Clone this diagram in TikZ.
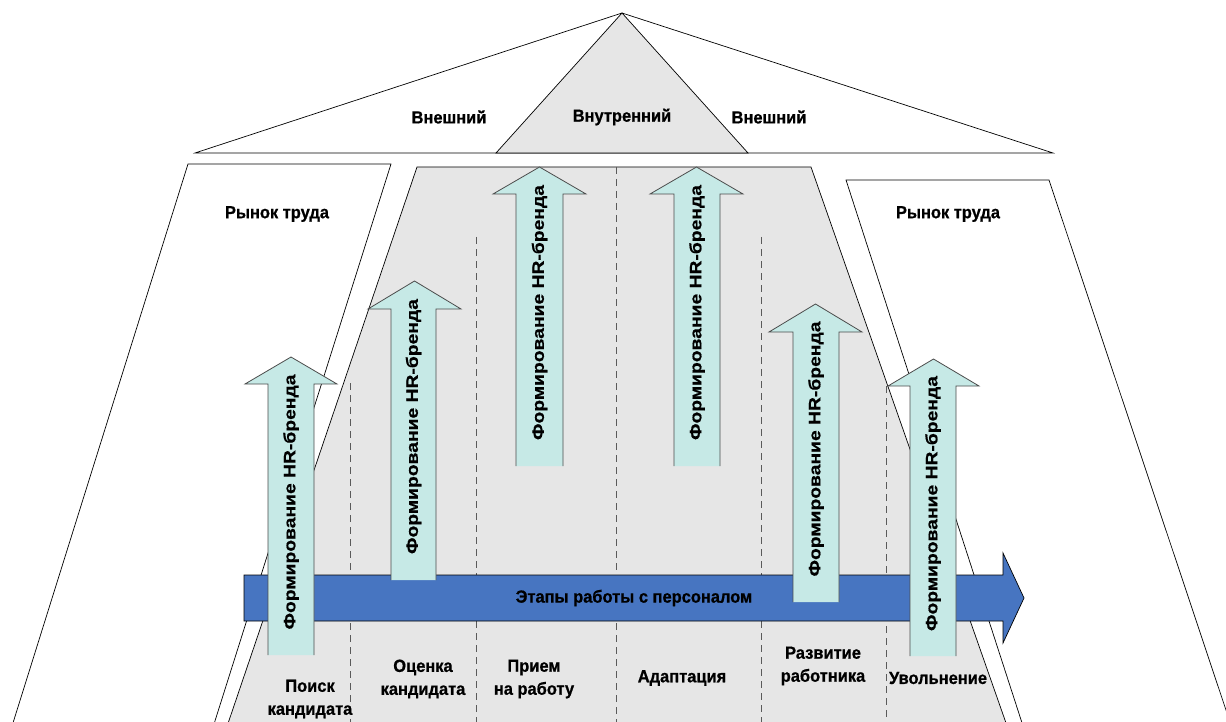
\documentclass[tikz,border=0pt]{standalone}
\usepackage{fontspec}
\setmainfont{Liberation Sans}
\newfontfamily\lblfont{Liberation Sans}[FakeStretch=0.94, BoldFeatures={FakeBold=0.8}]
\newfontfamily\hrfont{Liberation Sans}[FakeStretch=1.17, BoldFeatures={FakeBold=0.6}]
\definecolor{zonegray}{RGB}{230,230,230}
\definecolor{hrcyan}{RGB}{198,233,230}
\definecolor{stageblue}{RGB}{71,117,193}
\definecolor{dashgray}{RGB}{90,90,90}
\begin{document}
\begin{tikzpicture}[x=1pt,y=-1pt,
  lbl/.style={font=\lblfont\fontsize{17.5}{23}\selectfont\bfseries, align=center, inner sep=0pt},
  outline/.style={draw=black, line width=0.7pt},
  stagesep/.style={draw=dashgray, line width=0.8pt, dash pattern=on 7pt off 5pt},
  hrtext/.style={font=\hrfont\fontsize{16.5}{19}\selectfont\bfseries, rotate=90, inner sep=0pt}]
\useasboundingbox (0,0) rectangle (1226,722);
\clip (0,0) rectangle (1226,722);
% top triangles
\draw[outline, fill=white] (622,13) -- (1053,153) -- (195,153) -- cycle;
\draw[outline, fill=zonegray] (622,13) -- (748,153) -- (496,153) -- cycle;
% labour market parallelograms
\draw[outline, fill=white] (-8,790) -- (188,164) -- (391,164) -- (190,800);
\draw[outline, fill=white] (1047,800) -- (846,180) -- (1049,180) -- (1256,800);
% central trapezoid
\draw[outline, fill=zonegray] (202,800) -- (417,167) -- (811,167) -- (1033,800);
% stage separators
\draw[stagesep] (350,383) -- (350,722);
\draw[stagesep] (476,237) -- (476,722);
\draw[stagesep] (616,167) -- (616,722);
\draw[stagesep] (761,237) -- (761,722);
\draw[stagesep] (886,386) -- (886,722);
% big blue arrow
\draw[outline, fill=stageblue] (244,575) -- (1003,575) -- (1003,553) -- (1024,598) -- (1003,643) -- (1003,621) -- (244,621) -- cycle;
\node[lbl] (stages) at (634,598) {Этапы работы с персоналом};
% HR arrows
\newcommand{\hrarrow}[8]{%
  \fill[hrcyan] (#1,#7) -- (#1,#6) -- (#3,#6) -- ({(#3+#4)/2},#5) -- (#4,#6) -- (#2,#6) -- (#2,#7) -- cycle;
  \draw[draw=black!70, line width=0.8pt] (#1,#7) -- (#1,#6) -- (#3,#6) -- ({(#3+#4)/2},#5) -- (#4,#6) -- (#2,#6) -- (#2,#7);
  \node[hrtext] (#8) at ({(#1+#2)/2},{(#5+#7)/2-4}) {Формирование HR-бренда};
}
\hrarrow{268}{314}{245}{337}{357}{384}{655}{hrA}
\hrarrow{391}{436}{368}{461}{281}{309}{580}{hrB}
\hrarrow{516}{563}{493}{586}{167}{194}{466}{hrC}
\hrarrow{674}{720}{650}{743}{167}{194}{466}{hrD}
\hrarrow{793}{839}{769}{862}{304}{332}{602}{hrE}
\hrarrow{910}{956}{888}{979}{359}{386}{656}{hrF}
% labels
\node[lbl] (ext1) at (449,117) {Внешний};
\node[lbl] (int) at (622,117) {Внутренний};
\node[lbl] (ext2) at (769,117) {Внешний};
\node[lbl] (mk1) at (277,214) {Рынок труда};
\node[lbl] (mk2) at (948,214) {Рынок труда};
\node[lbl] (s1) at (310,699) {Поиск\\кандидата};
\node[lbl] (s2) at (423,679) {Оценка\\кандидата};
\node[lbl] (s3) at (534,679) {Прием\\на работу};
\node[lbl] (s4) at (682,678) {Адаптация};
\node[lbl] (s5) at (823,666) {Развитие\\работника};
\node[lbl] (s6) at (938,678) {Увольнение};
\end{tikzpicture}
\end{document}
